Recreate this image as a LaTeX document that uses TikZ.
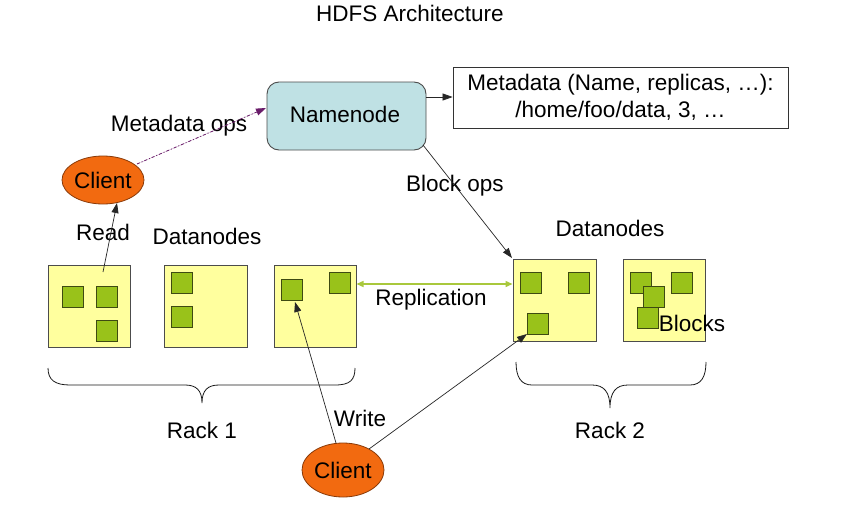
\documentclass[tikz,border=0pt]{standalone}
\usepackage{fontspec}
\setmainfont{Liberation Sans}
\usetikzlibrary{shapes.geometric,arrows.meta}
\definecolor{nnfill}{HTML}{BFE1E4}
\definecolor{dnfill}{HTML}{FFFF9E}
\definecolor{blkfill}{HTML}{99C21A}
\definecolor{blkline}{HTML}{3E4A12}
\definecolor{clfill}{HTML}{F26A10}
\definecolor{clline}{HTML}{8A3A08}
\definecolor{repl}{HTML}{A9C83C}
\definecolor{mops}{HTML}{6A1C6A}
\tikzset{
  lbl/.style={font=\fontsize{22.5}{26}\selectfont, inner sep=0pt},
  dnbox/.style={draw=black!70, fill=dnfill, line width=1pt, minimum width=82pt, minimum height=82pt, inner sep=0pt},
  blk/.style={draw=blkline, fill=blkfill, line width=0.9pt, minimum width=21pt, minimum height=21pt, inner sep=0pt, anchor=north west},
  client/.style={ellipse, draw=clline, fill=clfill, line width=0.8pt, minimum width=82pt, minimum height=48pt, inner sep=0pt, font=\fontsize{22.5}{26}\selectfont},
  conn/.style={draw=black!85, line width=0.7pt, -{Triangle[length=10pt,width=7pt]}},
}
\begin{document}
\begin{tikzpicture}[x=1pt,y=-1pt]
\useasboundingbox (0,0) rectangle (861,506);
\fill[white] (0,0) rectangle (861,506);

% title
\node[lbl] (title) at (410,13) {HDFS Architecture};

% namenode
\node[draw=black!70, fill=nnfill, rounded corners=12pt, line width=0.9pt,
      minimum width=159pt, minimum height=68pt, inner sep=0pt,
      font=\fontsize{22.5}{26}\selectfont] (nn) at (346.5,116) {};
\node[lbl] (nntext) at (345,114) {Namenode};

% metadata box
\node[draw=black!80, line width=0.8pt, minimum width=335pt, minimum height=61pt,
      align=center, inner sep=0pt, font=\fontsize{22.5}{26.5}\selectfont] (meta) at (620.5,97.5)
      {Metadata (Name, replicas, …):\\/home/foo/data, 3, …};

\draw[conn] (nn.east |- 0,97) -- (meta.west |- 0,97);

% clients
\node[client] (c1) at (103,180) {Client};
\node[client, minimum height=54pt] (c2) at (343,470) {Client};

% datanode boxes rack 1
\node[dnbox] (d1) at (89,306) {};
\node[dnbox, minimum width=83pt] (d2) at (205.5,306) {};
\node[dnbox] (d3) at (315,306) {};
% rack 2
\node[dnbox, minimum width=83pt] (d4) at (554.5,300) {};
\node[dnbox] (d5) at (664,300) {};

% blocks
\node[blk] (b11) at (62,286) {};
\node[blk] (b12) at (96,286) {};
\node[blk] (b13) at (96,320) {};
\node[blk] (b21) at (171,272) {};
\node[blk] (b22) at (171,306) {};
\node[blk] (b31) at (281,279) {};
\node[blk] (b32) at (329,272) {};
\node[blk] (b41) at (520,272) {};
\node[blk] (b42) at (568,272) {};
\node[blk] (b43) at (527,313) {};
\node[blk] (b51) at (630,272) {};
\node[blk] (b52) at (643,286) {};
\node[blk] (b53) at (637,307) {};
\node[blk] (b54) at (671,272) {};

% labels
\node[lbl] (lmops) at (179,126) {Metadata ops};
\node[lbl] (lread) at (103,232) {Read};
\node[lbl] (ldn1) at (207,236) {Datanodes};
\node[lbl] (ldn2) at (610,228) {Datanodes};
\node[lbl] (lbops) at (455,186) {Block ops};
\node[lbl] (lrepl) at (431,300) {Replication};
\node[lbl] (lblocks) at (692,323) {Blocks};
\node[lbl] (lwrite) at (360,418) {Write};
\node[lbl] (lrack1) at (202,430) {Rack 1};
\node[lbl] (lrack2) at (610,430) {Rack 2};

% connector end points
\coordinate (mops0) at (137,164);
\coordinate (mops1) at (266,108);
\coordinate (read0) at (103,272);
\coordinate (read1) at (117,203);
\coordinate (bops0) at (423,145);
\coordinate (bops1) at (512,258);
\coordinate (wr0) at (336,443);
\coordinate (wr1) at (295,302);
\coordinate (wr2) at (369,449);
\coordinate (wr3) at (527,334);

% connectors
\draw[draw=mops, line width=0.8pt, dash pattern=on 3pt off 2pt on 1pt off 2pt,
      -{Triangle[length=10pt,width=7pt]}, fill=mops] (mops0) -- (mops1);
\draw[conn] (read0) -- (read1);
\draw[conn] (bops0) -- (bops1);
\draw[draw=repl, line width=1.4pt, {Triangle[length=7pt,width=6pt]}-{Triangle[length=7pt,width=6pt]}]
      (d3.east |- 0,284) -- (d4.west |- 0,284);
\draw[conn] (wr0) -- (wr1);
\draw[conn] (wr2) -- (wr3);

% braces
\draw[black!90, line width=0.8pt]
  (48,368) .. controls (48,380) and (55,385) .. (70,385) -- (185,385)
  .. controls (196,385) and (202,390) .. (202,403)
  .. controls (202,390) and (208,385) .. (219,385) -- (335,385)
  .. controls (350,385) and (355,380) .. (355,368);
\draw[black!90, line width=0.8pt]
  (516,362) .. controls (516,377) and (521,385) .. (532,385) -- (592,385)
  .. controls (604,385) and (610,392) .. (610,408)
  .. controls (610,392) and (616,385) .. (628,385) -- (690,385)
  .. controls (701,385) and (706,377) .. (706,362);
\end{tikzpicture}
\end{document}
